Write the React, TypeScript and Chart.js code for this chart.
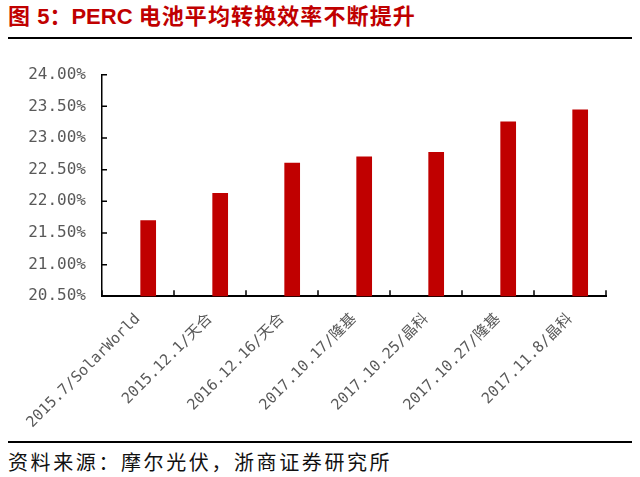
import React, { useEffect, useRef } from 'react';
import { Chart, registerables } from 'chart.js';

Chart.register(...registerables);

const categories = [
  '2015.7/SolarWorld',
  '2015.12.1/天合',
  '2016.12.16/天合',
  '2017.10.17/隆基',
  '2017.10.25/晶科',
  '2017.10.27/隆基',
  '2017.11.8/晶科',
];
const efficiency = [21.7, 22.13, 22.61, 22.71, 22.78, 23.26, 23.45];
const placeholderSeries = [null, null, null, null, null, null, null];
const yMin = 20.5;
const yMax = 24.0;
const yStep = 0.5;

const innerTicks = {
  id: 'innerTicks',
  afterDraw(chart: any) {
    const { ctx, chartArea, scales } = chart;
    const xs = scales.x;
    const ys = scales.y;
    ctx.save();
    ctx.strokeStyle = '#000';
    ctx.lineWidth = 1.5;
    ctx.beginPath();
    ys.ticks.forEach((_: any, i: number) => {
      const py = ys.getPixelForTick(i);
      ctx.moveTo(chartArea.left, py);
      ctx.lineTo(chartArea.left + 5, py);
    });
    const n = xs.ticks.length;
    const w = (xs.right - xs.left) / n;
    for (let i = 0; i <= n; i++) {
      const px = xs.left + i * w;
      ctx.moveTo(px, chartArea.bottom);
      ctx.lineTo(px, chartArea.bottom - 6);
    }
    ctx.stroke();
    ctx.restore();
  },
};

function BarChart() {
  const ref = useRef<HTMLCanvasElement>(null);
  useEffect(() => {
    if (!ref.current) return;
    const chart = new Chart(ref.current, {
      type: 'bar',
      data: {
        labels: categories,
        datasets: [
          {
            label: '',
            data: placeholderSeries as any,
            backgroundColor: 'rgba(0,0,0,0)',
          },
          {
            label: 'PERC',
            data: efficiency,
            backgroundColor: '#C00000',
            borderWidth: 0,
          },
        ],
      },
      options: {
        animation: false,
        responsive: true,
        maintainAspectRatio: false,
        events: [],
        layout: { padding: { top: 34.7, right: 34, bottom: 0, left: 0 } },
        datasets: {
          bar: { categoryPercentage: 0.566, barPercentage: 0.77 },
        },
        plugins: {
          legend: { display: false },
          tooltip: { enabled: false },
          title: { display: false },
        },
        scales: {
          x: {
            z: 1,
            grid: { display: true, drawOnChartArea: false, drawTicks: false },
            border: { display: true, color: '#000', width: 2 },
            ticks: {
              autoSkip: false,
              minRotation: 45,
              maxRotation: 45,
              padding: 14,
              labelOffset: 0,
              color: '#595959',
              font: { family: "'DejaVu Sans Mono', 'Noto Sans CJK SC'", size: 15 },
            },
            afterFit(scale: any) {
              scale.height = 143.7;
            },
          },
          y: {
            min: yMin,
            max: yMax,
            grid: { display: true, drawOnChartArea: false, drawTicks: false },
            border: { display: true, color: '#000', width: 1.5 },
            ticks: {
              stepSize: yStep,
              padding: 16,
              color: '#595959',
              font: { family: "'DejaVu Sans Mono'", size: 16 },
              callback: (v: any) => Number(v).toFixed(2) + '%',
            },
            afterFit(scale: any) {
              scale.width = 102;
            },
          },
        },
      },
      plugins: [innerTicks],
    });
    return () => chart.destroy();
  }, []);
  return <canvas ref={ref} />;
}

export default function App() {
  const cjk = "'Liberation Sans', Arial, 'Noto Sans CJK SC', sans-serif";
  return (
    <div style={{ position: 'absolute', left: 0, top: 0, width: 640, height: 477, background: '#fff', overflow: 'hidden' }}>
      <div
        style={{
          position: 'absolute',
          left: 8,
          top: 6,
          fontFamily: cjk,
          fontWeight: 'bold',
          fontSize: 22,
          lineHeight: '22px',
          color: '#C00000',
          whiteSpace: 'nowrap',
        }}
      >
        <span style={{ letterSpacing: 1 }}>图</span>
        <span> 5</span>
        <span>：</span>
        <span>PERC </span>
        <span style={{ letterSpacing: 1.1 }}>电池平均转换效率不断提升</span>
      </div>
      <div style={{ position: 'absolute', left: 8, top: 36.5, width: 624, height: 2, background: '#000' }} />
      <div style={{ position: 'absolute', left: 0, top: 40, width: 640, height: 400 }}>
        <BarChart />
      </div>
      <div style={{ position: 'absolute', left: 8, top: 441, width: 624, height: 2, background: '#000' }} />
      <div
        style={{
          position: 'absolute',
          left: 8,
          top: 452,
          fontFamily: "'Noto Sans CJK SC', sans-serif",
          fontSize: 20,
          lineHeight: '20px',
          letterSpacing: 2.6,
          color: '#111',
          whiteSpace: 'nowrap',
        }}
      >
        资料来源：摩尔光伏，浙商证券研究所
      </div>
    </div>
  );
}
